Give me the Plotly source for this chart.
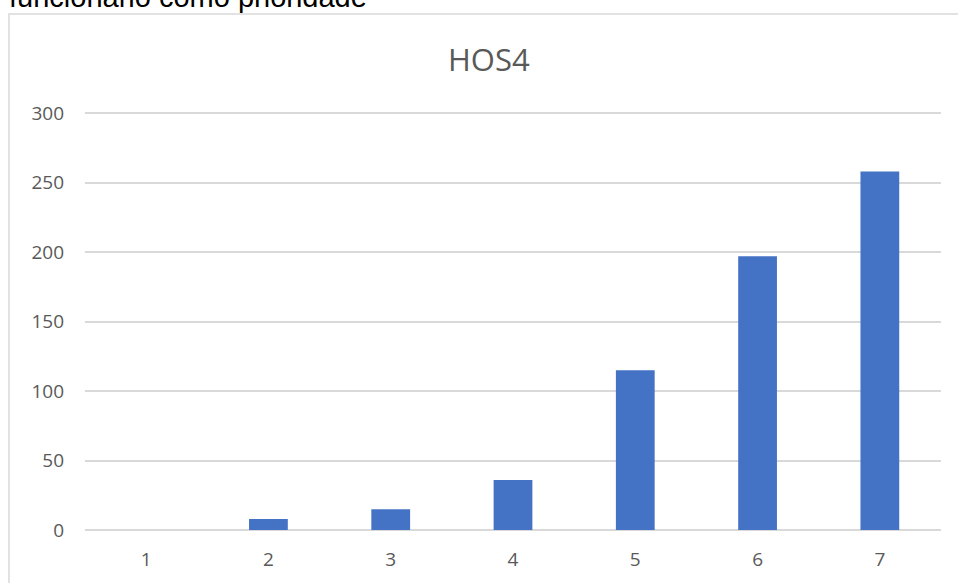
import plotly.graph_objects as go

categories = ["1", "2", "3", "4", "5", "6", "7"]
values = [0, 8, 15, 36, 115, 197, 258]
y_ticks = [0, 50, 100, 150, 200, 250, 300]
title_text = "HOS4"
top_text = "funcionario como prioridade"

W, H = 958, 583
L, R, T, B = 85, 941, 112, 529.7
YMAX = 300.75
pw, ph = R - L, B - T

def px(x):
    return (x - L) / pw

def py(y):
    return (B - y) / ph

fig = go.Figure()
fig.add_trace(go.Bar(x=categories, y=values, marker=dict(color="#4472C4", line=dict(width=0))))

fig.update_layout(
    width=W, height=H,
    margin=dict(l=L, r=W - R, t=T, b=H - B, pad=0),
    paper_bgcolor="white", plot_bgcolor="white",
    bargap=0.683,
    showlegend=False,
    font=dict(family="Open Sans", color="#595959"),
    xaxis=dict(type="category", showgrid=False, zeroline=False, showline=False,
               tickfont=dict(size=19, color="#595959"), ticks="", ticklabelstandoff=16),
    yaxis=dict(range=[0, YMAX], tickvals=y_ticks, showgrid=True, gridcolor="#d9d9d9", gridwidth=1.5,
               zeroline=True, zerolinecolor="#d9d9d9", zerolinewidth=1.5, showline=False,
               tickfont=dict(size=19, color="#595959"), ticks="", ticklabelstandoff=20),
    shapes=[dict(type="rect", xref="paper", yref="paper",
                 x0=px(9), x1=px(975), y0=py(600), y1=py(14),
                 line=dict(color="#d9d9d9", width=1.5), fillcolor="rgba(0,0,0,0)", layer="below")],
    annotations=[
        dict(text=title_text, xref="paper", yref="paper", x=px(488.5), y=py(59),
             xanchor="center", yanchor="middle", showarrow=False,
             font=dict(family="Open Sans", size=31, color="#595959")),
        dict(text=top_text, xref="paper", yref="paper", x=px(7), y=py(-2.5),
             xanchor="left", yanchor="middle", showarrow=False,
             font=dict(family="Liberation Sans", size=29, color="#000000")),
    ],
)

fig.write_html("out.html")
